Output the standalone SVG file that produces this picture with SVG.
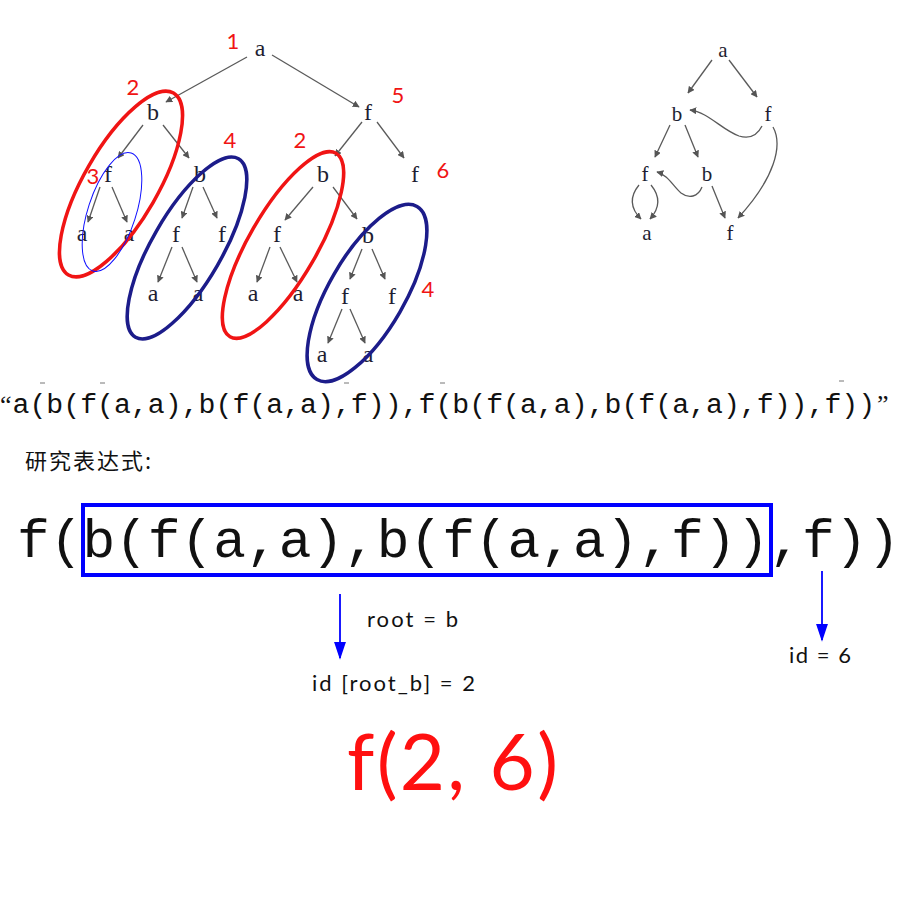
<svg xmlns="http://www.w3.org/2000/svg" width="900" height="900" viewBox="0 0 900 900">
<defs>
<marker id="ah" viewBox="0 0 10 10" refX="9" refY="5" markerWidth="7" markerHeight="7" markerUnits="userSpaceOnUse" orient="auto">
<path d="M0,0 L10,5 L0,10 z" fill="#555"/>
</marker>
<marker id="bh" viewBox="0 0 10 10" refX="9" refY="5" markerWidth="18" markerHeight="12" markerUnits="userSpaceOnUse" orient="auto" preserveAspectRatio="none">
<path d="M0,0 L10,5 L0,10 z" fill="#0000ff"/>
</marker>
</defs>
<style>
.n{font-family:"Liberation Serif","DejaVu Serif",serif;font-size:24px;fill:#1e1e32;text-anchor:middle}
.m{font-family:"Liberation Serif","DejaVu Serif",serif;font-size:21px;fill:#1e1e32;text-anchor:middle}
.e{fill:none;stroke:#5a5a5a;stroke-width:1.3;marker-end:url(#ah)}
.num{font-family:"Lato","Liberation Sans",sans-serif;font-size:22px;fill:#f01414;text-anchor:middle}
.red{fill:none;stroke:#f01414;stroke-width:3.5}
.navy{fill:none;stroke:#1c1c8a;stroke-width:3.5}
.mono{font-family:"Liberation Mono","Courier New",monospace;fill:#111}
.lbl{font-family:"Lato","Liberation Sans",sans-serif;font-size:22px;fill:#111}
.dash{stroke:#777;stroke-width:1}
</style>
<rect width="900" height="900" fill="#fff"/>

<g id="connectors">
<!-- left tree -->
<line class="e" x1="247" y1="57" x2="166" y2="102"/>
<line class="e" x1="272" y1="55" x2="359" y2="107"/>
<line class="e" x1="143" y1="125" x2="118" y2="158"/>
<line class="e" x1="163" y1="125" x2="189" y2="158"/>
<line class="e" x1="362" y1="122" x2="335" y2="156"/>
<line class="e" x1="377" y1="122" x2="404" y2="158"/>
<line class="e" x1="100" y1="187" x2="88" y2="222"/>
<line class="e" x1="112" y1="187" x2="127" y2="222"/>
<line class="e" x1="193" y1="187" x2="182" y2="218"/>
<line class="e" x1="203" y1="187" x2="217" y2="218"/>
<line class="e" x1="172" y1="247" x2="158" y2="282"/>
<line class="e" x1="182" y1="247" x2="197" y2="282"/>
<line class="e" x1="313" y1="187" x2="285" y2="220"/>
<line class="e" x1="333" y1="187" x2="357" y2="219"/>
<line class="e" x1="270" y1="247" x2="257" y2="282"/>
<line class="e" x1="280" y1="247" x2="297" y2="282"/>
<line class="e" x1="362" y1="249" x2="350" y2="279"/>
<line class="e" x1="372" y1="249" x2="385" y2="279"/>
<line class="e" x1="342" y1="309" x2="328" y2="343"/>
<line class="e" x1="350" y1="309" x2="365" y2="343"/>
<!-- right DAG -->
<line class="e" x1="712" y1="60" x2="688" y2="93"/>
<line class="e" x1="729" y1="60" x2="757" y2="97"/>
<line class="e" x1="670" y1="125" x2="655" y2="157"/>
<line class="e" x1="685" y1="125" x2="698" y2="157"/>
<path class="e" d="M762,126 C757,136 749,139 739,136 C722,130 708,112 690,110"/>
<path class="e" d="M773,127 C783,145 775,178 738,218"/>
<line class="e" x1="712" y1="186" x2="725" y2="218"/>
<path class="e" d="M702,187 C698,197 689,199 681,193 C673,186 668,175 657,172"/>
<path class="e" d="M639,185 C630,196 630,208 641,219"/>
<path class="e" d="M651,185 C660,196 660,208 650,219"/>
<!-- bottom arrows -->
<line x1="340" y1="594" x2="340" y2="658" stroke="#0000ff" stroke-width="1.8" marker-end="url(#bh)"/>
<line x1="822" y1="571" x2="822" y2="640" stroke="#0000ff" stroke-width="1.8" marker-end="url(#bh)"/>
</g>

<g id="left-tree">
<text class="n" x="260" y="56">a</text>
<text class="n" x="153" y="120">b</text>
<text class="n" x="368" y="120">f</text>
<text class="n" x="108" y="182">f</text>
<text class="n" x="200" y="182">b</text>
<text class="n" x="323" y="182">b</text>
<text class="n" x="415" y="182">f</text>
<text class="n" x="82" y="241">a</text>
<text class="n" x="129" y="241">a</text>
<text class="n" x="176" y="242">f</text>
<text class="n" x="222" y="242">f</text>
<text class="n" x="277" y="242">f</text>
<text class="n" x="368" y="243">b</text>
<text class="n" x="153" y="301">a</text>
<text class="n" x="198" y="301">a</text>
<text class="n" x="253" y="301">a</text>
<text class="n" x="298" y="301">a</text>
<text class="n" x="345" y="304">f</text>
<text class="n" x="392" y="304">f</text>
<text class="n" x="322" y="362">a</text>
<text class="n" x="368" y="362">a</text>
</g>

<g id="ellipses">
<ellipse class="red" cx="121" cy="184" rx="105" ry="37" transform="rotate(-60 121 184)"/>
<ellipse cx="112" cy="212" rx="62" ry="24" transform="rotate(-72 112 212)" fill="none" stroke="#1010ff" stroke-width="1"/>
<ellipse class="navy" cx="187" cy="248" rx="103" ry="35" transform="rotate(-60 187 248)"/>
<ellipse class="red" cx="283" cy="245" rx="106" ry="34" transform="rotate(-60 283 245)"/>
<ellipse class="navy" cx="367" cy="293" rx="100" ry="38" transform="rotate(-60 367 293)"/>
</g>

<g id="labels">
<text class="num" x="233" y="49">1</text>
<text class="num" x="133" y="95">2</text>
<text class="num" x="398" y="103">5</text>
<text class="num" x="230" y="148">4</text>
<text class="num" x="300" y="148">2</text>
<text class="num" x="93" y="184">3</text>
<text class="num" x="443" y="178">6</text>
<text class="num" x="428" y="297">4</text>
</g>

<g id="right-dag">
<text class="m" x="723" y="57">a</text>
<text class="m" x="677" y="121">b</text>
<text class="m" x="768" y="121">f</text>
<text class="m" x="645" y="181">f</text>
<text class="m" x="707" y="181">b</text>
<text class="m" x="647" y="240">a</text>
<text class="m" x="730" y="240">f</text>
</g>

<g id="expression">
<line class="dash" x1="40" y1="383" x2="45" y2="383"/>
<line class="dash" x1="100" y1="383" x2="105" y2="383"/>
<line class="dash" x1="344" y1="383" x2="349" y2="383"/>
<line class="dash" x1="440" y1="383" x2="445" y2="383"/>
<line class="dash" x1="839" y1="381" x2="844" y2="381"/>
<text x="0" y="413" font-family="Liberation Serif,serif" font-size="26" fill="#111">“</text>
<text class="mono" x="12.5" y="413" font-size="28.2">a(b(f(a,a),b(f(a,a),f)),f(b(f(a,a),b(f(a,a),f)),f))</text>
<text x="877" y="413" font-family="Liberation Serif,serif" font-size="26" fill="#111">”</text>
<text x="25" y="469" font-family="Noto Sans CJK SC,sans-serif" font-size="22" letter-spacing="2" fill="#111">研究表达式:</text>
</g>

<g id="study">
<text class="mono" x="17" y="557" font-size="54.5">f(b(f(a,a),b(f(a,a),f)),f))</text>
<rect x="83" y="505" width="688" height="70" fill="none" stroke="#0000ff" stroke-width="4"/>
</g>

<g id="results">
<text class="lbl" x="367" y="627" textLength="91">root = b</text>
<text class="lbl" x="312" y="691" textLength="163">id [root_b] = 2</text>
<text class="lbl" x="789" y="663" textLength="62">id = 6</text>
<text x="347" y="790" font-family="Lato,Liberation Sans,sans-serif" font-size="78" fill="#ff1010" textLength="211">f(2, 6)</text>
</g>
</svg>
